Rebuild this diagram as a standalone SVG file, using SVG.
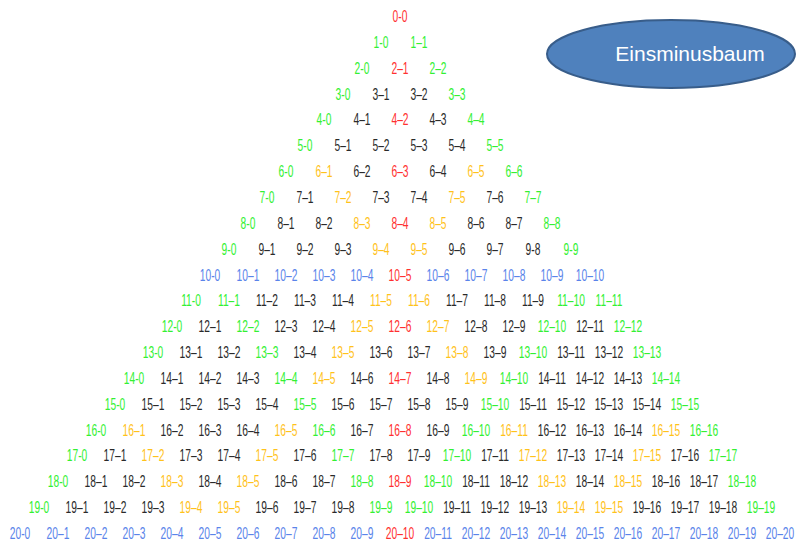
<svg xmlns="http://www.w3.org/2000/svg" width="796" height="542" viewBox="0 0 796 542">
<style>
#nodes text{font-family:"Liberation Sans",Arial,sans-serif;font-size:16px;text-anchor:middle;transform:translate(0,.5px) scale(.64,1)}
.g{fill:#33f033}.r{fill:#ff3030}.o{fill:#ffc21a}.b{fill:#5a84ea}.k{fill:#2a2a2a}
.lbl{font-family:"Liberation Sans",Arial,sans-serif;font-size:21px;fill:#fff;text-anchor:middle}
</style>
<rect width="796" height="542" fill="#fff"/>
<g id="connectors"/>
<g id="einsminusbaum">
<ellipse cx="671" cy="54" rx="124" ry="34" fill="#4f81bd" stroke="#385d8a" stroke-width="2"/>
<text class="lbl" x="690" y="61">Einsminusbaum</text>
</g>
<g id="nodes">
<g id="n0-0" transform="translate(400 21.5)"><text class="r">0-0</text></g>
<g id="n1-0" transform="translate(381 47.35)"><text class="g">1-0</text></g>
<g id="n1-1" transform="translate(419 47.35)"><text class="g">1–1</text></g>
<g id="n2-0" transform="translate(362 73.2)"><text class="g">2-0</text></g>
<g id="n2-1" transform="translate(400 73.2)"><text class="r">2–1</text></g>
<g id="n2-2" transform="translate(438 73.2)"><text class="g">2–2</text></g>
<g id="n3-0" transform="translate(343 99.05)"><text class="g">3-0</text></g>
<g id="n3-1" transform="translate(381 99.05)"><text class="k">3–1</text></g>
<g id="n3-2" transform="translate(419 99.05)"><text class="k">3–2</text></g>
<g id="n3-3" transform="translate(457 99.05)"><text class="g">3–3</text></g>
<g id="n4-0" transform="translate(324 124.9)"><text class="g">4-0</text></g>
<g id="n4-1" transform="translate(362 124.9)"><text class="k">4–1</text></g>
<g id="n4-2" transform="translate(400 124.9)"><text class="r">4–2</text></g>
<g id="n4-3" transform="translate(438 124.9)"><text class="k">4–3</text></g>
<g id="n4-4" transform="translate(476 124.9)"><text class="g">4–4</text></g>
<g id="n5-0" transform="translate(305 150.75)"><text class="g">5-0</text></g>
<g id="n5-1" transform="translate(343 150.75)"><text class="k">5–1</text></g>
<g id="n5-2" transform="translate(381 150.75)"><text class="k">5–2</text></g>
<g id="n5-3" transform="translate(419 150.75)"><text class="k">5–3</text></g>
<g id="n5-4" transform="translate(457 150.75)"><text class="k">5–4</text></g>
<g id="n5-5" transform="translate(495 150.75)"><text class="g">5–5</text></g>
<g id="n6-0" transform="translate(286 176.6)"><text class="g">6-0</text></g>
<g id="n6-1" transform="translate(324 176.6)"><text class="o">6–1</text></g>
<g id="n6-2" transform="translate(362 176.6)"><text class="k">6–2</text></g>
<g id="n6-3" transform="translate(400 176.6)"><text class="r">6–3</text></g>
<g id="n6-4" transform="translate(438 176.6)"><text class="k">6–4</text></g>
<g id="n6-5" transform="translate(476 176.6)"><text class="o">6–5</text></g>
<g id="n6-6" transform="translate(514 176.6)"><text class="g">6–6</text></g>
<g id="n7-0" transform="translate(267 202.45)"><text class="g">7-0</text></g>
<g id="n7-1" transform="translate(305 202.45)"><text class="k">7–1</text></g>
<g id="n7-2" transform="translate(343 202.45)"><text class="o">7–2</text></g>
<g id="n7-3" transform="translate(381 202.45)"><text class="k">7–3</text></g>
<g id="n7-4" transform="translate(419 202.45)"><text class="k">7–4</text></g>
<g id="n7-5" transform="translate(457 202.45)"><text class="o">7–5</text></g>
<g id="n7-6" transform="translate(495 202.45)"><text class="k">7–6</text></g>
<g id="n7-7" transform="translate(533 202.45)"><text class="g">7–7</text></g>
<g id="n8-0" transform="translate(248 228.3)"><text class="g">8-0</text></g>
<g id="n8-1" transform="translate(286 228.3)"><text class="k">8–1</text></g>
<g id="n8-2" transform="translate(324 228.3)"><text class="k">8–2</text></g>
<g id="n8-3" transform="translate(362 228.3)"><text class="o">8–3</text></g>
<g id="n8-4" transform="translate(400 228.3)"><text class="r">8–4</text></g>
<g id="n8-5" transform="translate(438 228.3)"><text class="o">8–5</text></g>
<g id="n8-6" transform="translate(476 228.3)"><text class="k">8–6</text></g>
<g id="n8-7" transform="translate(514 228.3)"><text class="k">8–7</text></g>
<g id="n8-8" transform="translate(552 228.3)"><text class="g">8–8</text></g>
<g id="n9-0" transform="translate(229 254.15)"><text class="g">9-0</text></g>
<g id="n9-1" transform="translate(267 254.15)"><text class="k">9–1</text></g>
<g id="n9-2" transform="translate(305 254.15)"><text class="k">9–2</text></g>
<g id="n9-3" transform="translate(343 254.15)"><text class="k">9–3</text></g>
<g id="n9-4" transform="translate(381 254.15)"><text class="o">9–4</text></g>
<g id="n9-5" transform="translate(419 254.15)"><text class="o">9–5</text></g>
<g id="n9-6" transform="translate(457 254.15)"><text class="k">9–6</text></g>
<g id="n9-7" transform="translate(495 254.15)"><text class="k">9–7</text></g>
<g id="n9-8" transform="translate(533 254.15)"><text class="k">9-8</text></g>
<g id="n9-9" transform="translate(571 254.15)"><text class="g">9-9</text></g>
<g id="n10-0" transform="translate(210 280)"><text class="b">10-0</text></g>
<g id="n10-1" transform="translate(248 280)"><text class="b">10–1</text></g>
<g id="n10-2" transform="translate(286 280)"><text class="b">10–2</text></g>
<g id="n10-3" transform="translate(324 280)"><text class="b">10–3</text></g>
<g id="n10-4" transform="translate(362 280)"><text class="b">10–4</text></g>
<g id="n10-5" transform="translate(400 280)"><text class="r">10–5</text></g>
<g id="n10-6" transform="translate(438 280)"><text class="b">10–6</text></g>
<g id="n10-7" transform="translate(476 280)"><text class="b">10–7</text></g>
<g id="n10-8" transform="translate(514 280)"><text class="b">10–8</text></g>
<g id="n10-9" transform="translate(552 280)"><text class="b">10–9</text></g>
<g id="n10-10" transform="translate(590 280)"><text class="b">10–10</text></g>
<g id="n11-0" transform="translate(191 305.85)"><text class="g">11-0</text></g>
<g id="n11-1" transform="translate(229 305.85)"><text class="g">11–1</text></g>
<g id="n11-2" transform="translate(267 305.85)"><text class="k">11–2</text></g>
<g id="n11-3" transform="translate(305 305.85)"><text class="k">11–3</text></g>
<g id="n11-4" transform="translate(343 305.85)"><text class="k">11–4</text></g>
<g id="n11-5" transform="translate(381 305.85)"><text class="o">11–5</text></g>
<g id="n11-6" transform="translate(419 305.85)"><text class="o">11–6</text></g>
<g id="n11-7" transform="translate(457 305.85)"><text class="k">11–7</text></g>
<g id="n11-8" transform="translate(495 305.85)"><text class="k">11–8</text></g>
<g id="n11-9" transform="translate(533 305.85)"><text class="k">11–9</text></g>
<g id="n11-10" transform="translate(571 305.85)"><text class="g">11–10</text></g>
<g id="n11-11" transform="translate(609 305.85)"><text class="g">11–11</text></g>
<g id="n12-0" transform="translate(172 331.7)"><text class="g">12-0</text></g>
<g id="n12-1" transform="translate(210 331.7)"><text class="k">12–1</text></g>
<g id="n12-2" transform="translate(248 331.7)"><text class="g">12–2</text></g>
<g id="n12-3" transform="translate(286 331.7)"><text class="k">12–3</text></g>
<g id="n12-4" transform="translate(324 331.7)"><text class="k">12–4</text></g>
<g id="n12-5" transform="translate(362 331.7)"><text class="o">12–5</text></g>
<g id="n12-6" transform="translate(400 331.7)"><text class="r">12–6</text></g>
<g id="n12-7" transform="translate(438 331.7)"><text class="o">12–7</text></g>
<g id="n12-8" transform="translate(476 331.7)"><text class="k">12–8</text></g>
<g id="n12-9" transform="translate(514 331.7)"><text class="k">12–9</text></g>
<g id="n12-10" transform="translate(552 331.7)"><text class="g">12–10</text></g>
<g id="n12-11" transform="translate(590 331.7)"><text class="k">12–11</text></g>
<g id="n12-12" transform="translate(628 331.7)"><text class="g">12–12</text></g>
<g id="n13-0" transform="translate(153 357.55)"><text class="g">13-0</text></g>
<g id="n13-1" transform="translate(191 357.55)"><text class="k">13–1</text></g>
<g id="n13-2" transform="translate(229 357.55)"><text class="k">13–2</text></g>
<g id="n13-3" transform="translate(267 357.55)"><text class="g">13–3</text></g>
<g id="n13-4" transform="translate(305 357.55)"><text class="k">13–4</text></g>
<g id="n13-5" transform="translate(343 357.55)"><text class="o">13–5</text></g>
<g id="n13-6" transform="translate(381 357.55)"><text class="k">13–6</text></g>
<g id="n13-7" transform="translate(419 357.55)"><text class="k">13–7</text></g>
<g id="n13-8" transform="translate(457 357.55)"><text class="o">13–8</text></g>
<g id="n13-9" transform="translate(495 357.55)"><text class="k">13–9</text></g>
<g id="n13-10" transform="translate(533 357.55)"><text class="g">13–10</text></g>
<g id="n13-11" transform="translate(571 357.55)"><text class="k">13–11</text></g>
<g id="n13-12" transform="translate(609 357.55)"><text class="k">13–12</text></g>
<g id="n13-13" transform="translate(647 357.55)"><text class="g">13–13</text></g>
<g id="n14-0" transform="translate(134 383.4)"><text class="g">14-0</text></g>
<g id="n14-1" transform="translate(172 383.4)"><text class="k">14–1</text></g>
<g id="n14-2" transform="translate(210 383.4)"><text class="k">14–2</text></g>
<g id="n14-3" transform="translate(248 383.4)"><text class="k">14–3</text></g>
<g id="n14-4" transform="translate(286 383.4)"><text class="g">14–4</text></g>
<g id="n14-5" transform="translate(324 383.4)"><text class="o">14–5</text></g>
<g id="n14-6" transform="translate(362 383.4)"><text class="k">14–6</text></g>
<g id="n14-7" transform="translate(400 383.4)"><text class="r">14–7</text></g>
<g id="n14-8" transform="translate(438 383.4)"><text class="k">14–8</text></g>
<g id="n14-9" transform="translate(476 383.4)"><text class="o">14–9</text></g>
<g id="n14-10" transform="translate(514 383.4)"><text class="g">14–10</text></g>
<g id="n14-11" transform="translate(552 383.4)"><text class="k">14–11</text></g>
<g id="n14-12" transform="translate(590 383.4)"><text class="k">14–12</text></g>
<g id="n14-13" transform="translate(628 383.4)"><text class="k">14–13</text></g>
<g id="n14-14" transform="translate(666 383.4)"><text class="g">14–14</text></g>
<g id="n15-0" transform="translate(115 409.25)"><text class="g">15-0</text></g>
<g id="n15-1" transform="translate(153 409.25)"><text class="k">15–1</text></g>
<g id="n15-2" transform="translate(191 409.25)"><text class="k">15–2</text></g>
<g id="n15-3" transform="translate(229 409.25)"><text class="k">15–3</text></g>
<g id="n15-4" transform="translate(267 409.25)"><text class="k">15–4</text></g>
<g id="n15-5" transform="translate(305 409.25)"><text class="g">15–5</text></g>
<g id="n15-6" transform="translate(343 409.25)"><text class="k">15–6</text></g>
<g id="n15-7" transform="translate(381 409.25)"><text class="k">15–7</text></g>
<g id="n15-8" transform="translate(419 409.25)"><text class="k">15–8</text></g>
<g id="n15-9" transform="translate(457 409.25)"><text class="k">15–9</text></g>
<g id="n15-10" transform="translate(495 409.25)"><text class="g">15–10</text></g>
<g id="n15-11" transform="translate(533 409.25)"><text class="k">15–11</text></g>
<g id="n15-12" transform="translate(571 409.25)"><text class="k">15–12</text></g>
<g id="n15-13" transform="translate(609 409.25)"><text class="k">15–13</text></g>
<g id="n15-14" transform="translate(647 409.25)"><text class="k">15–14</text></g>
<g id="n15-15" transform="translate(685 409.25)"><text class="g">15–15</text></g>
<g id="n16-0" transform="translate(96 435.1)"><text class="g">16-0</text></g>
<g id="n16-1" transform="translate(134 435.1)"><text class="o">16–1</text></g>
<g id="n16-2" transform="translate(172 435.1)"><text class="k">16–2</text></g>
<g id="n16-3" transform="translate(210 435.1)"><text class="k">16–3</text></g>
<g id="n16-4" transform="translate(248 435.1)"><text class="k">16–4</text></g>
<g id="n16-5" transform="translate(286 435.1)"><text class="o">16–5</text></g>
<g id="n16-6" transform="translate(324 435.1)"><text class="g">16–6</text></g>
<g id="n16-7" transform="translate(362 435.1)"><text class="k">16–7</text></g>
<g id="n16-8" transform="translate(400 435.1)"><text class="r">16–8</text></g>
<g id="n16-9" transform="translate(438 435.1)"><text class="k">16–9</text></g>
<g id="n16-10" transform="translate(476 435.1)"><text class="g">16–10</text></g>
<g id="n16-11" transform="translate(514 435.1)"><text class="o">16–11</text></g>
<g id="n16-12" transform="translate(552 435.1)"><text class="k">16–12</text></g>
<g id="n16-13" transform="translate(590 435.1)"><text class="k">16–13</text></g>
<g id="n16-14" transform="translate(628 435.1)"><text class="k">16–14</text></g>
<g id="n16-15" transform="translate(666 435.1)"><text class="o">16–15</text></g>
<g id="n16-16" transform="translate(704 435.1)"><text class="g">16–16</text></g>
<g id="n17-0" transform="translate(77 460.95)"><text class="g">17-0</text></g>
<g id="n17-1" transform="translate(115 460.95)"><text class="k">17–1</text></g>
<g id="n17-2" transform="translate(153 460.95)"><text class="o">17–2</text></g>
<g id="n17-3" transform="translate(191 460.95)"><text class="k">17–3</text></g>
<g id="n17-4" transform="translate(229 460.95)"><text class="k">17–4</text></g>
<g id="n17-5" transform="translate(267 460.95)"><text class="o">17–5</text></g>
<g id="n17-6" transform="translate(305 460.95)"><text class="k">17–6</text></g>
<g id="n17-7" transform="translate(343 460.95)"><text class="g">17–7</text></g>
<g id="n17-8" transform="translate(381 460.95)"><text class="k">17–8</text></g>
<g id="n17-9" transform="translate(419 460.95)"><text class="k">17–9</text></g>
<g id="n17-10" transform="translate(457 460.95)"><text class="g">17–10</text></g>
<g id="n17-11" transform="translate(495 460.95)"><text class="k">17–11</text></g>
<g id="n17-12" transform="translate(533 460.95)"><text class="o">17–12</text></g>
<g id="n17-13" transform="translate(571 460.95)"><text class="k">17–13</text></g>
<g id="n17-14" transform="translate(609 460.95)"><text class="k">17–14</text></g>
<g id="n17-15" transform="translate(647 460.95)"><text class="o">17–15</text></g>
<g id="n17-16" transform="translate(685 460.95)"><text class="k">17–16</text></g>
<g id="n17-17" transform="translate(723 460.95)"><text class="g">17–17</text></g>
<g id="n18-0" transform="translate(58 486.8)"><text class="g">18-0</text></g>
<g id="n18-1" transform="translate(96 486.8)"><text class="k">18–1</text></g>
<g id="n18-2" transform="translate(134 486.8)"><text class="k">18–2</text></g>
<g id="n18-3" transform="translate(172 486.8)"><text class="o">18–3</text></g>
<g id="n18-4" transform="translate(210 486.8)"><text class="k">18–4</text></g>
<g id="n18-5" transform="translate(248 486.8)"><text class="o">18–5</text></g>
<g id="n18-6" transform="translate(286 486.8)"><text class="k">18–6</text></g>
<g id="n18-7" transform="translate(324 486.8)"><text class="k">18–7</text></g>
<g id="n18-8" transform="translate(362 486.8)"><text class="g">18–8</text></g>
<g id="n18-9" transform="translate(400 486.8)"><text class="r">18–9</text></g>
<g id="n18-10" transform="translate(438 486.8)"><text class="g">18–10</text></g>
<g id="n18-11" transform="translate(476 486.8)"><text class="k">18–11</text></g>
<g id="n18-12" transform="translate(514 486.8)"><text class="k">18–12</text></g>
<g id="n18-13" transform="translate(552 486.8)"><text class="o">18–13</text></g>
<g id="n18-14" transform="translate(590 486.8)"><text class="k">18–14</text></g>
<g id="n18-15" transform="translate(628 486.8)"><text class="o">18–15</text></g>
<g id="n18-16" transform="translate(666 486.8)"><text class="k">18–16</text></g>
<g id="n18-17" transform="translate(704 486.8)"><text class="k">18–17</text></g>
<g id="n18-18" transform="translate(742 486.8)"><text class="g">18–18</text></g>
<g id="n19-0" transform="translate(39 512.65)"><text class="g">19-0</text></g>
<g id="n19-1" transform="translate(77 512.65)"><text class="k">19–1</text></g>
<g id="n19-2" transform="translate(115 512.65)"><text class="k">19–2</text></g>
<g id="n19-3" transform="translate(153 512.65)"><text class="k">19–3</text></g>
<g id="n19-4" transform="translate(191 512.65)"><text class="o">19–4</text></g>
<g id="n19-5" transform="translate(229 512.65)"><text class="o">19–5</text></g>
<g id="n19-6" transform="translate(267 512.65)"><text class="k">19–6</text></g>
<g id="n19-7" transform="translate(305 512.65)"><text class="k">19–7</text></g>
<g id="n19-8" transform="translate(343 512.65)"><text class="k">19–8</text></g>
<g id="n19-9" transform="translate(381 512.65)"><text class="g">19–9</text></g>
<g id="n19-10" transform="translate(419 512.65)"><text class="g">19–10</text></g>
<g id="n19-11" transform="translate(457 512.65)"><text class="k">19–11</text></g>
<g id="n19-12" transform="translate(495 512.65)"><text class="k">19–12</text></g>
<g id="n19-13" transform="translate(533 512.65)"><text class="k">19–13</text></g>
<g id="n19-14" transform="translate(571 512.65)"><text class="o">19–14</text></g>
<g id="n19-15" transform="translate(609 512.65)"><text class="o">19–15</text></g>
<g id="n19-16" transform="translate(647 512.65)"><text class="k">19–16</text></g>
<g id="n19-17" transform="translate(685 512.65)"><text class="k">19–17</text></g>
<g id="n19-18" transform="translate(723 512.65)"><text class="k">19–18</text></g>
<g id="n19-19" transform="translate(761 512.65)"><text class="g">19–19</text></g>
<g id="n20-0" transform="translate(20 538.5)"><text class="b">20-0</text></g>
<g id="n20-1" transform="translate(58 538.5)"><text class="b">20–1</text></g>
<g id="n20-2" transform="translate(96 538.5)"><text class="b">20–2</text></g>
<g id="n20-3" transform="translate(134 538.5)"><text class="b">20–3</text></g>
<g id="n20-4" transform="translate(172 538.5)"><text class="b">20–4</text></g>
<g id="n20-5" transform="translate(210 538.5)"><text class="b">20–5</text></g>
<g id="n20-6" transform="translate(248 538.5)"><text class="b">20–6</text></g>
<g id="n20-7" transform="translate(286 538.5)"><text class="b">20–7</text></g>
<g id="n20-8" transform="translate(324 538.5)"><text class="b">20–8</text></g>
<g id="n20-9" transform="translate(362 538.5)"><text class="b">20–9</text></g>
<g id="n20-10" transform="translate(400 538.5)"><text class="r">20–10</text></g>
<g id="n20-11" transform="translate(438 538.5)"><text class="b">20–11</text></g>
<g id="n20-12" transform="translate(476 538.5)"><text class="b">20–12</text></g>
<g id="n20-13" transform="translate(514 538.5)"><text class="b">20–13</text></g>
<g id="n20-14" transform="translate(552 538.5)"><text class="b">20–14</text></g>
<g id="n20-15" transform="translate(590 538.5)"><text class="b">20–15</text></g>
<g id="n20-16" transform="translate(628 538.5)"><text class="b">20–16</text></g>
<g id="n20-17" transform="translate(666 538.5)"><text class="b">20–17</text></g>
<g id="n20-18" transform="translate(704 538.5)"><text class="b">20–18</text></g>
<g id="n20-19" transform="translate(742 538.5)"><text class="b">20–19</text></g>
<g id="n20-20" transform="translate(780 538.5)"><text class="b">20–20</text></g>
</g>
</svg>
